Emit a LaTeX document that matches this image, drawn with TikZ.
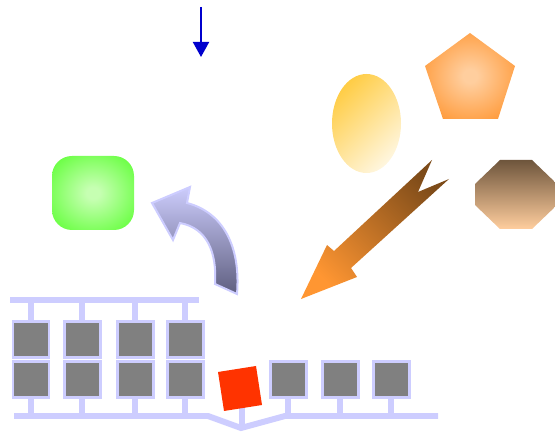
\documentclass[tikz,border=0pt]{standalone}
\usepackage{tikz}
\usetikzlibrary{arrows.meta}
\definecolor{busblue}{RGB}{205,205,255}
\definecolor{chipgray}{RGB}{128,128,128}
\definecolor{chipred}{RGB}{255,51,0}
\definecolor{limegreen}{RGB}{100,255,60}
\definecolor{palegreen}{RGB}{198,255,178}
\definecolor{sunyellow}{RGB}{255,205,70}
\definecolor{cream}{RGB}{255,246,222}
\definecolor{pumpkin}{RGB}{255,150,50}
\definecolor{peach}{RGB}{255,206,158}
\definecolor{darkbrown}{RGB}{110,85,60}
\definecolor{rustbrown}{RGB}{125,75,25}
\definecolor{lilac}{RGB}{204,204,252}
\definecolor{slate}{RGB}{95,95,128}
\definecolor{pointerblue}{RGB}{0,0,205}
\pgfdeclareradialshading{greenglow}{\pgfpointorigin}{color(0bp)=(palegreen); color(4bp)=(palegreen); color(33bp)=(limegreen); color(50bp)=(limegreen)}
\pgfdeclareradialshading{orangeglow}{\pgfpointorigin}{color(0bp)=(peach); color(4bp)=(peach); color(32bp)=(pumpkin); color(50bp)=(pumpkin)}
\def\chip(#1,#2){\draw[chip] (#1,#2) rectangle ++(36,36);}

\begin{document}
\begin{tikzpicture}[x=0.02cm, y=-0.02cm,
	bus/.style={line width=0.12cm, color=busblue},
	chip/.style={fill=chipgray, draw=busblue, line width=0.06cm}]
			%%%%% START %%%%%
			\useasboundingbox (0,0) rectangle (555,432);
			
			\draw[pointerblue, line width=0.04cm, -{Triangle[width=0.32cm, length=0.3cm]}] (201,7) -- (201,57);
			
			\shade[shading=greenglow, rounded corners=0.4cm] (52,156) rectangle (134,230);
			
			\shade[top color=sunyellow, bottom color=cream, shading angle=45] (366.5,123.5) ellipse [x radius=34.5, y radius=49.5];
			\shade[shading=orangeglow] (470,33) -- (515,66) -- (498,119) -- (443,119) -- (425,66) -- cycle;
			\shade[top color=darkbrown, bottom color=peach] (500,160) -- (532,160) -- (557,184) -- (557,205) -- (532,229) -- (500,229) -- (475,205) -- (475,184) -- cycle;
			
			\shade[top color=rustbrown, bottom color=pumpkin, shading angle=-45] (301,299) -- (327,245) -- (334,251) -- (432,160) -- (418,192) -- (449,179) -- (351,268) -- (357,277) -- cycle;
			
			\draw[draw=busblue, line width=0.04cm, top color=lilac, bottom color=slate] (152,203) -- (190,187) -- (187,203) .. controls (222,212) and (241,245) .. (237,294) -- (215,284) .. controls (217,252) and (207,228) .. (180,223) -- (173,240) -- cycle;
			
			% upper bus
			\draw[bus] (10,300) -- (199,300);
			\draw[bus] (31,300) -- (31,322);
			\draw[bus] (82,300) -- (82,322);
			\draw[bus] (135,300) -- (135,322);
			\draw[bus] (185,300) -- (185,322);
			
			% lower bus
			\draw[bus] (14,416) -- (208,416) -- (241,428) -- (285,416) -- (438,416);
			\draw[bus] (31,398) -- (31,416);
			\draw[bus] (82,398) -- (82,416);
			\draw[bus] (135,398) -- (135,416);
			\draw[bus] (185,398) -- (185,416);
			\draw[bus] (242,404) -- (242,428);
			\draw[bus] (288,398) -- (288,416);
			\draw[bus] (340,398) -- (340,416);
			\draw[bus] (391,398) -- (391,416);
			
			\chip(13,322) \chip(64,322) \chip(117,322) \chip(167,322)
			\chip(13,362) \chip(64,362) \chip(117,362) \chip(167,362)
			\chip(270,362) \chip(322,362) \chip(373,362)
			
			\fill[chipred] (218,372) -- (256,366) -- (262,405) -- (224,411) -- cycle;
			
			%%%%% END %%%%%
\end{tikzpicture}
\end{document}
